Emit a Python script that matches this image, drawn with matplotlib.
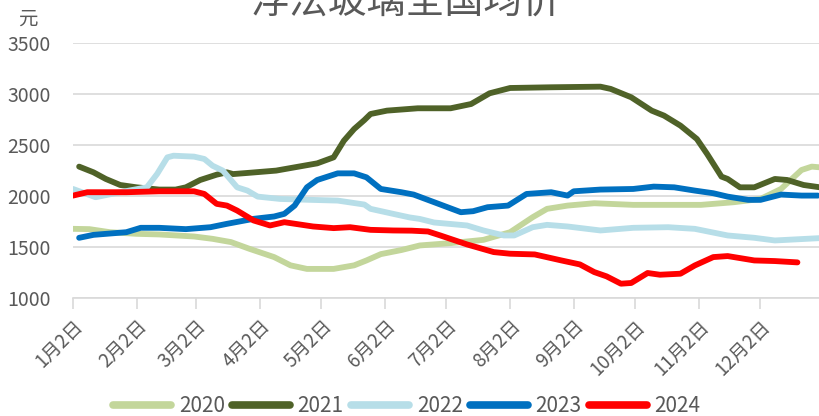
import matplotlib.pyplot as plt

plt.rcParams['font.family'] = ['Noto Sans CJK SC', 'DejaVu Sans']

# days counted from Jan 2 (leap-year calendar, as on the chart axis)
month_days = [0, 31, 60, 91, 121, 152, 182, 213, 244, 274, 305, 335]
month_labels = ['1月2日', '2月2日', '3月2日', '4月2日', '5月2日', '6月2日',
                '7月2日', '8月2日', '9月2日', '10月2日', '11月2日', '12月2日']

days_2020 = [0, 8, 18, 31, 42, 59, 68, 77, 86, 98, 106, 114, 127, 137, 143, 150, 160,
             169, 184, 200, 213, 224, 231, 241, 254, 273, 290, 306, 322, 335, 345, 355, 360, 364]
price_2020 = [1678, 1675, 1645, 1629, 1623, 1603, 1580, 1548, 1482, 1401, 1320, 1285, 1285,
              1320, 1368, 1430, 1470, 1515, 1538, 1570, 1645, 1792, 1874, 1906, 1929, 1913,
              1913, 1913, 1939, 1971, 2069, 2255, 2288, 2281]

days_2021 = [3, 10, 16, 23, 31, 42, 50, 55, 62, 70, 75, 78, 85, 99, 108, 119, 127, 132, 137,
             142, 145, 153, 168, 184, 194, 203, 213, 233, 257, 262, 272, 282, 288, 296, 304,
             309, 316, 319, 325, 332, 342, 348, 356, 364]
price_2021 = [2288, 2232, 2167, 2108, 2085, 2063, 2063, 2085, 2157, 2209, 2232, 2215, 2226,
              2249, 2281, 2320, 2379, 2542, 2657, 2745, 2804, 2837, 2860, 2860, 2902, 3007,
              3059, 3066, 3072, 3050, 2968, 2837, 2788, 2690, 2559, 2412, 2190, 2167, 2085,
              2085, 2167, 2157, 2108, 2085]

days_2022 = [0, 11, 23, 36, 41, 46, 49, 59, 64, 68, 73, 80, 85, 90, 101, 116, 129, 142, 145,
             156, 164, 169, 176, 192, 200, 210, 215, 224, 231, 241, 257, 273, 290, 303, 319,
             332, 342, 364]
price_2022 = [2069, 1988, 2037, 2085, 2216, 2379, 2395, 2386, 2363, 2297, 2249, 2085, 2053,
              1994, 1971, 1962, 1955, 1916, 1874, 1825, 1790, 1775, 1740, 1711, 1662, 1613,
              1613, 1694, 1717, 1701, 1662, 1688, 1694, 1678, 1613, 1590, 1564, 1587]

days_2023 = [3, 10, 26, 33, 42, 55, 67, 75, 88, 98, 103, 108, 114, 119, 129, 137, 143, 150,
             160, 166, 176, 189, 195, 202, 212, 221, 233, 241, 244, 257, 273, 283, 293, 303,
             312, 319, 329, 335, 345, 355, 363]
price_2023 = [1590, 1619, 1645, 1688, 1688, 1675, 1694, 1727, 1776, 1799, 1825, 1906, 2085,
              2157, 2222, 2222, 2183, 2069, 2037, 2014, 1939, 1841, 1851, 1890, 1906, 2020,
              2037, 2004, 2046, 2063, 2069, 2092, 2085, 2053, 2027, 1994, 1962, 1962, 2014,
              2004, 2004]

days_2024 = [0, 7, 26, 42, 59, 64, 70, 75, 80, 88, 96, 103, 117, 127, 135, 145, 156, 165,
             173, 179, 192, 205, 213, 225, 238, 247, 254, 260, 267, 272, 280, 286, 296, 303,
             312, 319, 332, 342, 353]
price_2024 = [2004, 2037, 2037, 2046, 2046, 2020, 1923, 1906, 1857, 1760, 1711, 1743, 1701,
              1685, 1694, 1668, 1662, 1660, 1652, 1613, 1525, 1450, 1434, 1427, 1368, 1329,
              1254, 1212, 1140, 1147, 1245, 1228, 1238, 1319, 1401, 1411, 1368, 1362, 1349]

series = [
    ('2020', days_2020, price_2020, '#c3d69b'),
    ('2021', days_2021, price_2021, '#4f6228'),
    ('2022', days_2022, price_2022, '#b7dee8'),
    ('2023', days_2023, price_2023, '#0070c0'),
    ('2024', days_2024, price_2024, '#ff0000'),
]

fig = plt.figure(figsize=(8.2, 4.16), dpi=100)
ax = fig.add_axes([0.089, 0.2837, 0.911, 0.6129])

for name, d, p, c in series:
    ax.plot(d, p, color=c, lw=4.2, solid_capstyle='round', solid_joinstyle='round', label=name)

ax.set_xlim(0, 364)
ax.set_ylim(1000, 3500)
ax.set_yticks(range(1000, 3501, 500))
ax.grid(axis='y', color='#d9d9d9', lw=1.2)
ax.set_axisbelow(True)
for s in ['left', 'right', 'top']:
    ax.spines[s].set_visible(False)
ax.spines['bottom'].set_color('#d9d9d9')
ax.spines['bottom'].set_linewidth(1.2)

ax.set_xticks(month_days)
ax.set_xticklabels(month_labels, rotation=45, ha='right', rotation_mode='anchor',
                   fontsize=13.5, color='#595959')
ax.tick_params(axis='x', length=8, width=1.2, color='#d9d9d9', pad=5)
ax.tick_params(axis='y', length=0, pad=16, labelsize=14, labelcolor='#595959')

fig.text(0.022, 0.955, '元', fontsize=14, color='#595959', ha='left', va='center')
fig.text(0.495, 0.995, '浮法玻璃全国均价', fontsize=28, color='#595959',
         ha='center', va='center', fontweight='light')

leg = ax.legend(loc='center', bbox_to_anchor=(0.447, -0.424), ncol=5, frameon=False,
                fontsize=15, handlelength=2.8, columnspacing=0.35, handletextpad=0.35,
                labelcolor='#595959')
for h in leg.get_lines():
    h.set_linewidth(5.5)

fig.savefig('out.png', dpi=100)
